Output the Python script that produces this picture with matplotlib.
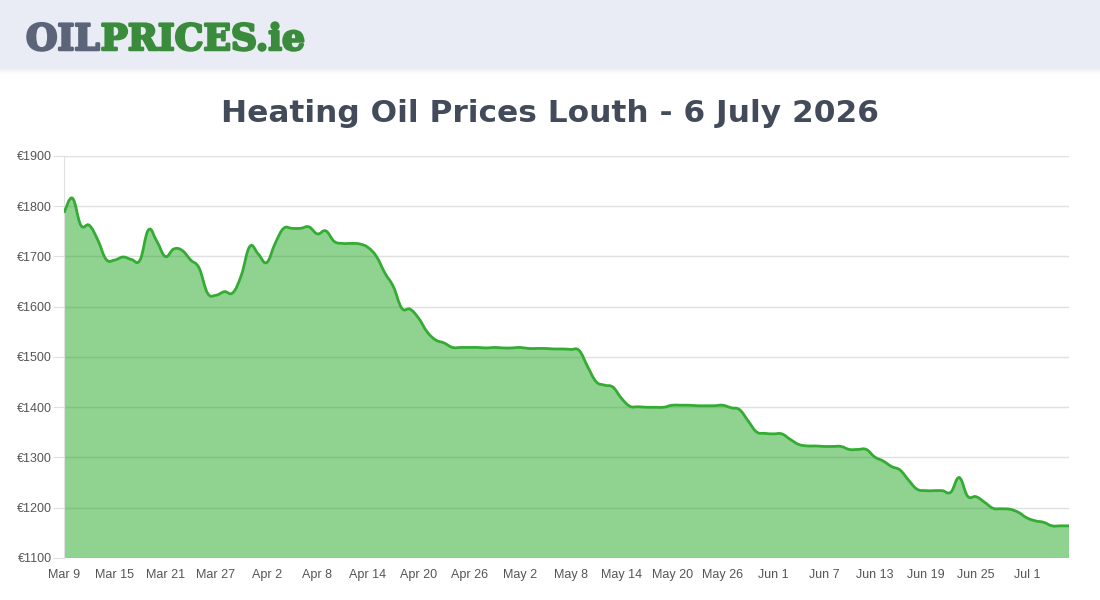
import matplotlib
matplotlib.use('Agg')
import matplotlib.pyplot as plt
import matplotlib.patheffects as pe
from matplotlib.path import Path
from matplotlib.patches import PathPatch, Rectangle
import numpy as np
import datetime as dt

# daily prices, Mar 9 -> Jul 6 2026
prices = [
    1787, 1816, 1762, 1762, 1733, 1694, 1693, 1699, 1694, 1693,
    1753, 1730, 1700, 1715, 1712, 1693, 1677, 1627, 1623, 1630,
    1628, 1663, 1720, 1705, 1688, 1726, 1756, 1756, 1756, 1759,
    1745, 1751, 1730, 1726, 1726, 1725, 1718, 1700, 1667, 1640,
    1597, 1595, 1577, 1550, 1534, 1528, 1519, 1519, 1519, 1519,
    1518, 1519, 1518, 1518, 1519, 1517, 1517, 1517, 1516, 1516,
    1515, 1513, 1481, 1451, 1444, 1440, 1418, 1402, 1401, 1400,
    1400, 1400, 1404, 1404, 1404, 1403, 1403, 1403, 1404, 1399,
    1395, 1373, 1351, 1348, 1347, 1347, 1336, 1326, 1323, 1323,
    1322, 1322, 1322, 1316, 1316, 1316, 1301, 1293, 1282, 1275,
    1255, 1237, 1234, 1234, 1234, 1231, 1260, 1223, 1222, 1211,
    1199, 1198, 1197, 1191, 1180, 1174, 1171, 1164, 1164, 1164,
]
start = dt.date(2026, 3, 9)
tick_days = list(range(0, 120, 6))
tick_labels = [(start + dt.timedelta(days=d)).strftime('%b ') +
               str((start + dt.timedelta(days=d)).day) for d in tick_days]
y_ticks = [1100, 1200, 1300, 1400, 1500, 1600, 1700, 1800, 1900]
y_labels = ['€%d' % v for v in y_ticks]

title = 'Heating Oil Prices Louth - 6 July 2026'


def smooth_path(x, y, tension=0.4):
    # cubic bezier through the points (chart.js style)
    x = np.asarray(x, float)
    y = np.asarray(y, float)
    n = len(x)
    verts = [(x[0], y[0])]
    codes = [Path.MOVETO]
    for i in range(n - 1):
        xp, yp = (x[i - 1], y[i - 1]) if i > 0 else (x[i], y[i])
        xn2, yn2 = (x[i + 2], y[i + 2]) if i + 2 < n else (x[i + 1], y[i + 1])
        c1 = (x[i] + (x[i + 1] - xp) * tension / 2,
              y[i] + (y[i + 1] - yp) * tension / 2)
        c2 = (x[i + 1] - (xn2 - x[i]) * tension / 2,
              y[i + 1] - (yn2 - y[i]) * tension / 2)
        verts += [c1, c2, (x[i + 1], y[i + 1])]
        codes += [Path.CURVE4] * 3
    return verts, codes


fig = plt.figure(figsize=(11, 6), dpi=100)
fig.patch.set_facecolor('white')

# header band
fig.patches.append(Rectangle((0, 0.885), 1, 0.115, transform=fig.transFigure,
                             facecolor='#e9ecf4', edgecolor='none', zorder=0))
for k, a in enumerate([0.05, 0.03, 0.015]):
    fig.patches.append(Rectangle((0, 0.885 - 0.0025 * (k + 1)), 1, 0.0025,
                                 transform=fig.transFigure, facecolor='black',
                                 alpha=a, edgecolor='none', zorder=0))
logo_fx = dict(fontsize=26, fontweight='bold', family='DejaVu Serif',
               va='baseline')
logo1 = fig.text(26 / 1100, 1 - 50 / 600, 'OIL', color='#5b6479',
                 path_effects=[pe.withStroke(linewidth=1.8,
                                             foreground='#5b6479')],
                 **logo_fx)
fig.canvas.draw()
bb = logo1.get_window_extent()
fig.text((bb.x1 + 1) / 1100, 1 - 50 / 600, 'PRICES.ie', color='#3a8c3c',
         path_effects=[pe.withStroke(linewidth=1.8, foreground='#3a8c3c')],
         **logo_fx)

t = fig.text(0.5, 1 - 113 / 600, title, fontsize=30, family='DejaVu Sans',
             fontweight='bold', color='#434a5a', ha='center', va='center')
fig.canvas.draw()
w = t.get_window_extent().width
t.set_fontsize(30 * 658 / w)

ax = fig.add_axes([64 / 1100, 42 / 600, 1005 / 1100, 402 / 600])
days = np.arange(len(prices))
verts, codes = smooth_path(days, prices)
fill_verts = verts + [(days[-1], 1100), (days[0], 1100), verts[0]]
fill_codes = codes + [Path.LINETO, Path.LINETO, Path.CLOSEPOLY]
ax.add_patch(PathPatch(Path(fill_verts, fill_codes), facecolor='#22a822',
                       alpha=0.5, edgecolor='none', zorder=2))
ax.add_patch(PathPatch(Path(verts, codes), facecolor='none',
                       edgecolor='#34ac34', lw=2, zorder=3))

ax.set_xlim(0, len(prices) - 1)
ax.set_ylim(1100, 1900)
ax.set_yticks(y_ticks)
ax.set_yticklabels(y_labels, family='Liberation Sans')
ax.set_xticks(tick_days)
ax.set_xticklabels(tick_labels, family='Liberation Sans')
ax.grid(axis='y', color='#e0e0e0', lw=1, zorder=1)
ax.set_axisbelow(True)
ax.tick_params(axis='y', length=8, color='#e0e0e0', labelsize=9,
               labelcolor='#555555', pad=1)
ax.tick_params(axis='x', length=0, labelsize=9, labelcolor='#555555', pad=8)
for s in ['top', 'right', 'bottom']:
    ax.spines[s].set_visible(False)
ax.spines['left'].set_color('#e0e0e0')

fig.savefig('out.png', dpi=100)
